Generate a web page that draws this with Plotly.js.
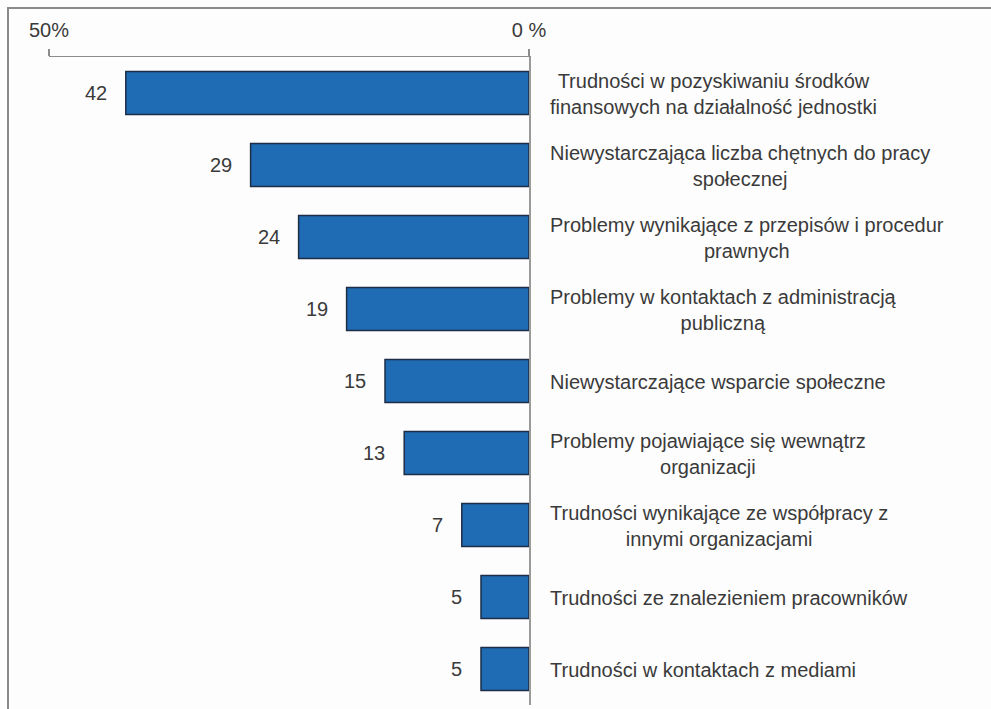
<!DOCTYPE html>
<html>
<head>
<meta charset="utf-8">
<script src="https://cdn.plot.ly/plotly-3.0.1.min.js"></script>
<style>html,body{margin:0;padding:0;background:#fff;}#chart{width:991px;height:709px;}</style>
</head>
<body>
<div id="chart"></div>
<script>
const categories = [
  "Trudności w pozyskiwaniu środków<br>finansowych na działalność jednostki",
  "Niewystarczająca liczba chętnych do pracy<br>społecznej",
  "Problemy wynikające z przepisów i procedur<br>prawnych",
  "Problemy w kontaktach z administracją<br>publiczną",
  "Niewystarczające wsparcie społeczne",
  "Problemy pojawiające się wewnątrz<br>organizacji",
  "Trudności wynikające ze współpracy z<br>innymi organizacjami",
  "Trudności ze znalezieniem pracowników",
  "Trudności w kontaktach z mediami"
];
const values = [42, 29, 24, 19, 15, 13, 7, 5, 5];
const tickValues = [50, 0];
const tickLabels = ["50%", "0 %"];

const W = 991, H = 709;
const M = {l: 49, r: 462, t: 57, b: 4};
const pw = W - M.l - M.r, ph = H - M.t - M.b;
const FONT = "Liberation Sans, Arial, sans-serif";
const TXT = "#3a3a3a";

const ids = categories.map((c, i) => "c" + i);

const trace = {
  type: "bar",
  orientation: "h",
  x: values,
  y: ids,
  width: 0.6,
  marker: {color: "#1f6bb4", line: {color: "#1d2d45", width: 1.5}},
  hoverinfo: "skip"
};

const annotations = [];
categories.forEach((c, i) => {
  annotations.push({
    xref: "x", yref: "y", x: 0, y: ids[i],
    text: c, showarrow: false, xanchor: "left", yanchor: "middle",
    align: "center", xshift: 19, yshift: -1,
    font: {family: FONT, size: 20, color: TXT}
  });
  annotations.push({
    xref: "x", yref: "y", x: values[i], y: ids[i],
    text: String(values[i]), showarrow: false, xanchor: "right", yanchor: "middle",
    xshift: -17,
    font: {family: FONT, size: 20, color: TXT}
  });
});

const px2x = p => (p - M.l) / pw;
const py2y = p => (H - M.b - p) / ph;

const layout = {
  width: W, height: H,
  margin: M,
  paper_bgcolor: "#fdfdfd",
  plot_bgcolor: "#fdfdfd",
  showlegend: false,
  font: {family: FONT, size: 20, color: TXT},
  xaxis: {
    side: "top",
    range: [50, 0],
    tickvals: tickValues,
    ticktext: tickLabels,
    showgrid: false,
    zeroline: false,
    showline: true,
    linecolor: "#8c8c8c",
    linewidth: 1.5,
    ticks: "outside",
    ticklen: 7,
    tickwidth: 1.5,
    tickcolor: "#8c8c8c",
    ticklabelstandoff: 4,
    tickfont: {family: FONT, size: 20, color: TXT},
    fixedrange: true
  },
  yaxis: {
    type: "category",
    categoryorder: "array",
    categoryarray: ids,
    autorange: "reversed",
    side: "right",
    showticklabels: false,
    ticks: "",
    showgrid: false,
    zeroline: false,
    showline: true,
    linecolor: "#9a9a9a",
    linewidth: 1.5,
    fixedrange: true
  },
  bargap: 0.4,
  annotations: annotations,
  shapes: [{
    type: "rect", xref: "paper", yref: "paper",
    x0: px2x(8), x1: px2x(1010), y0: py2y(730), y1: py2y(8),
    line: {color: "#8a8a8a", width: 2}, fillcolor: "rgba(0,0,0,0)", layer: "below"
  }]
};

Plotly.newPlot("chart", [trace], layout, {displayModeBar: false, staticPlot: true});
</script>
</body>
</html>
